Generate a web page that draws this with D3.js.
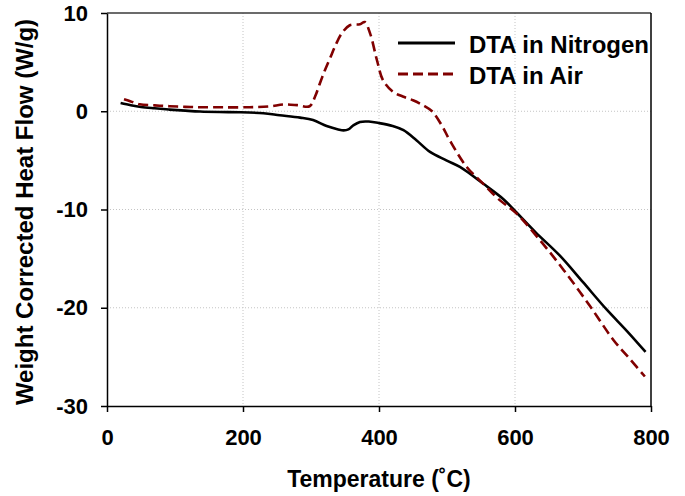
<!DOCTYPE html>
<html>
<head>
<meta charset="utf-8">
<script src="https://cdn.jsdelivr.net/npm/d3@7"></script>
<style>
  body { margin: 0; background: #fff; }
  svg text { font-family: "Liberation Sans", Arial, sans-serif; font-weight: bold; fill: #000; }
  .grid line { stroke: #c4c4c4; stroke-width: 1; stroke-dasharray: 1,2; }
</style>
</head>
<body>
<div id="vis"></div>
<script>
// DTA in Nitrogen
var n2Temp = [20, 35, 50, 70, 92, 115, 137, 165, 196, 230, 254, 284, 303, 323, 340, 348, 355, 362, 372, 385, 400, 420, 436, 455, 475, 499, 519, 553, 583, 598, 630, 666, 700, 735, 765, 792];
var n2Flow = [0.85, 0.62, 0.44, 0.3, 0.17, 0.06, -0.03, -0.08, -0.1, -0.2, -0.4, -0.65, -0.9, -1.5, -1.85, -1.95, -1.85, -1.45, -1.09, -1.05, -1.2, -1.5, -1.93, -2.95, -4.14, -5.0, -5.67, -7.36, -8.95, -10.0, -12.3, -14.7, -17.4, -20.2, -22.4, -24.5];

// DTA in Air
var airTemp = [25, 35, 48, 70, 92, 115, 137, 170, 210, 240, 259, 280, 298, 306, 313, 320, 328, 336, 345, 357, 372, 379, 387, 397, 406, 421, 435, 450, 465, 478, 492, 504, 529, 553, 575, 602, 640, 672, 710, 745, 770, 791];
var airFlow = [1.22, 1.0, 0.71, 0.6, 0.51, 0.45, 0.41, 0.4, 0.41, 0.5, 0.68, 0.62, 0.51, 1.5, 2.82, 4.1, 5.4, 6.7, 7.9, 8.75, 8.85, 9.08, 7.9, 5.19, 3.15, 1.96, 1.5, 1.12, 0.6, 0.0, -1.4, -2.95, -5.67, -7.36, -8.9, -10.4, -13.4, -16.2, -19.8, -23.3, -25.3, -27.0];

var xTicks = [0, 200, 400, 600, 800];
var yTicks = [10, 0, -10, -20, -30];
var seriesNames = ['DTA in Nitrogen', 'DTA in Air'];

var width = 685;
var height = 496;
var plot = { left: 107, right: 651, top: 13, bottom: 406 };

var svg = d3.select('#vis')
  .append('svg')
  .attr('width', width)
  .attr('height', height);

var x = d3.scaleLinear().domain([0, 800]).range([plot.left, plot.right]);
var y = d3.scaleLinear().domain([-30, 10]).range([plot.bottom, plot.top]);

// dotted grid
var grid = svg.append('g').attr('class', 'grid');
grid.selectAll('.vgrid')
  .data(xTicks.filter(function (d) { return d > 0 && d < 800; }))
  .enter().append('line')
  .attr('x1', function (d) { return x(d); })
  .attr('x2', function (d) { return x(d); })
  .attr('y1', plot.top)
  .attr('y2', plot.bottom);
grid.selectAll('.hgrid')
  .data(yTicks.filter(function (d) { return d > -30 && d < 10; }))
  .enter().append('line')
  .attr('x1', plot.left)
  .attr('x2', plot.right)
  .attr('y1', function (d) { return y(d); })
  .attr('y2', function (d) { return y(d); });

// frame (top and right)
svg.append('line')
  .attr('x1', plot.left).attr('x2', plot.right)
  .attr('y1', plot.top).attr('y2', plot.top)
  .attr('stroke', '#3a3a3a').attr('stroke-width', 1.5);
svg.append('line')
  .attr('x1', plot.right).attr('x2', plot.right)
  .attr('y1', plot.top).attr('y2', plot.bottom)
  .attr('stroke', '#000').attr('stroke-width', 1.5);

// axes (plain hyphen for negatives, like the original)
var fmt = function (d) { return String(d); };
var xAxis = svg.append('g')
  .attr('transform', 'translate(0,' + plot.bottom + ')')
  .call(d3.axisBottom(x).tickValues(xTicks).tickFormat(fmt).tickSize(6).tickSizeOuter(0).tickPadding(17));
var yAxis = svg.append('g')
  .attr('transform', 'translate(' + plot.left + ',0)')
  .call(d3.axisLeft(y).tickValues(yTicks).tickFormat(fmt).tickSize(6).tickSizeOuter(0).tickPadding(13));

[xAxis, yAxis].forEach(function (ax) {
  ax.select('.domain').attr('stroke', '#000').attr('stroke-width', 1.5);
  ax.selectAll('.tick line').attr('stroke', '#000').attr('stroke-width', 1.5);
  ax.selectAll('.tick text')
    .style('font-size', '22px')
    .style('font-family', '"Liberation Sans", Arial, sans-serif')
    .style('font-weight', 'bold')
    .attr('fill', '#000');
});

// axis titles
svg.append('text')
  .attr('x', (plot.left + plot.right) / 2)
  .attr('y', 487)
  .attr('text-anchor', 'middle')
  .style('font-size', '23px')
  .text('Temperature (\u02DAC)');

svg.append('text')
  .attr('transform', 'translate(33,' + 212 + ') rotate(-90)')
  .attr('text-anchor', 'middle')
  .style('font-size', '24px')
  .text('Weight Corrected Heat Flow (W/g)');

// curves
var line = d3.line()
  .x(function (d) { return x(d[0]); })
  .y(function (d) { return y(d[1]); })
  .curve(d3.curveCatmullRom.alpha(0.5));

var n2Data = d3.zip(n2Temp, n2Flow);
var airData = d3.zip(airTemp, airFlow);

svg.append('path')
  .datum(n2Data)
  .attr('d', line)
  .attr('fill', 'none')
  .attr('stroke', '#000')
  .attr('stroke-width', 2.6);

svg.append('path')
  .datum(airData)
  .attr('d', line)
  .attr('fill', 'none')
  .attr('stroke', '#800000')
  .attr('stroke-width', 2.6)
  .attr('stroke-dasharray', '10,5');

// legend
var legend = svg.append('g');
var legendStyles = [
  { color: '#000', dash: null },
  { color: '#800000', dash: '10,5' }
];
seriesNames.forEach(function (name, i) {
  var ly = 43 + i * 31;
  legend.append('line')
    .attr('x1', 398).attr('x2', 455)
    .attr('y1', ly).attr('y2', ly)
    .attr('stroke', legendStyles[i].color)
    .attr('stroke-width', 2.8)
    .attr('stroke-dasharray', legendStyles[i].dash);
  legend.append('text')
    .attr('x', 469)
    .attr('y', ly + 10)
    .style('font-size', '24px')
    .text(name);
});
</script>
</body>
</html>
